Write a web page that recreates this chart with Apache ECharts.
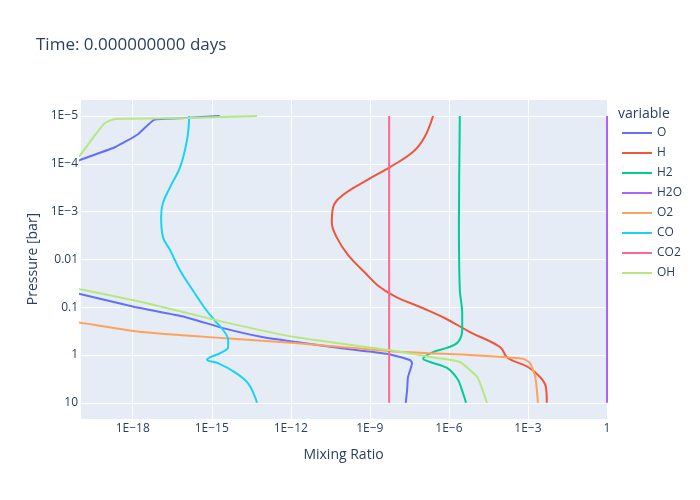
<!DOCTYPE html>
<html>
<head>
<meta charset="UTF-8">
<title>Mixing ratio profiles</title>
<script src="https://cdn.jsdelivr.net/npm/echarts@6/dist/echarts.min.js"></script>
</head>
<body style="margin: 0">
<div id="container" style="width: 700px; height: 500px"></div>
<script type="text/javascript">
// species in legend order
var species = ['O', 'H', 'H2', 'H2O', 'O2', 'CO', 'CO2', 'OH'];
var colors = ['#636efa', '#EF553B', '#00cc96', '#ab63fa', '#FFA15A', '#19d3f3', '#FF6692', '#B6E880'];

// each profile: [mixing ratio, pressure in bar], top of atmosphere first
var O = [[2.0e-15, 1e-5], [9.5e-17, 1.1e-5], [6.5e-18, 1.2e-5], [1.6e-18, 2.4e-5], [2.1e-19, 4.5e-5],
    [1e-20, 8.3e-5], [3e-22, 2e-4], [1e-24, 1e-3], [1e-23, 1e-2], [2e-22, 0.032],
    [1e-20, 0.053], [1.2e-18, 0.099], [9.5e-17, 0.16], [2.5e-15, 0.27], [8.1e-14, 0.42],
    [1.4e-12, 0.53], [7.4e-11, 0.71], [4.9e-9, 0.95], [3.3e-8, 1.27], [4.0e-8, 1.47],
    [2.8e-8, 2.9], [2.6e-8, 5.4], [2.3e-8, 10]];
var H = [[2.5e-7, 1e-5], [1.2e-7, 2.75e-5], [4.4e-8, 5.6e-5], [5.8e-9, 1.17e-4], [7.8e-10, 2.2e-4],
    [9.5e-11, 4.5e-4], [4.0e-11, 8.3e-4], [3.6e-11, 1.66e-3], [5.6e-11, 3.5e-3], [1.5e-10, 8.1e-3],
    [6.6e-10, 0.019], [2.0e-9, 0.035], [8.9e-9, 0.059], [1.05e-7, 0.105], [7.1e-7, 0.17],
    [6.3e-6, 0.33], [8.7e-5, 0.68], [1.7e-4, 1.15], [1.0e-3, 1.78], [2.9e-3, 2.9],
    [4.8e-3, 4.7], [5.2e-3, 10]];
var H2 = [[2.6e-6, 1e-5], [2.4e-6, 1.7e-3], [2.6e-6, 0.044], [3.2e-6, 0.13], [3.2e-6, 0.30],
    [2.2e-6, 0.54], [8.5e-7, 0.71], [2.5e-7, 0.87], [1.05e-7, 1.2], [1.9e-7, 1.4],
    [8.5e-7, 1.86], [2.2e-6, 3.3], [3.4e-6, 6.2], [4.5e-6, 10]];
var H2O = [[1, 1e-5], [1, 1e-3], [1, 0.1], [1, 10]];
var O2 = [[1e-40, 1e-5], [1e-36, 0.01], [1e-24, 0.1], [1e-20, 0.21], [2.2e-18, 0.33],
    [2.5e-15, 0.44], [1.4e-12, 0.56], [5.8e-9, 0.83], [6.3e-6, 1.0], [1.1e-4, 1.1],
    [6.5e-4, 1.2], [1.2e-3, 1.48], [1.9e-3, 2.9], [2.4e-3, 10]];
var CO = [[1.4e-16, 1e-5], [1.15e-16, 3.2e-5], [6.3e-17, 1.17e-4], [2.6e-17, 3.1e-4], [1.4e-17, 6.6e-4],
    [1.2e-17, 1.3e-3], [1.4e-17, 3.4e-3], [2.6e-17, 6.3e-3], [6.3e-17, 0.017], [1.9e-16, 0.044],
    [5.5e-16, 0.105], [1.3e-15, 0.19], [2.7e-15, 0.30], [4.2e-15, 0.49], [4.2e-15, 0.68],
    [2.5e-15, 0.87], [6.6e-16, 1.26], [1.7e-15, 1.48], [7.6e-15, 2.3], [2.4e-14, 3.9],
    [4.4e-14, 7.6], [5.2e-14, 10]];
var CO2 = [[5.4e-9, 1e-5], [5.4e-9, 1e-3], [5.4e-9, 0.1], [5.4e-9, 10]];
var OH = [[5.2e-14, 1e-5], [1.3e-16, 1.1e-5], [2.1e-19, 1.15e-5], [8.9e-20, 1.4e-5], [3.7e-20, 2.5e-5],
    [1e-20, 6.6e-5], [1e-21, 2e-4], [1e-24, 0.01], [1.2e-22, 0.025],
    [1e-20, 0.042], [2.2e-18, 0.078], [2.5e-15, 0.20], [1.4e-12, 0.42], [5.8e-9, 0.79],
    [3.5e-7, 1.15], [2.6e-6, 1.4], [1.2e-5, 2.9], [1.9e-5, 5.4], [2.8e-5, 10]];

var profiles = [O, H, H2, H2O, O2, CO, CO2, OH];
// smoother for the rounded profiles, less where there are sharp bends
var smoothing = [0.15, 0.4, 0.3, 0, 0.2, 0.4, 0, 0.15];

var font = '"Open Sans", verdana, arial, sans-serif';
var textColor = '#2a3f5f';

// plotly style log labels: 1E−5 ... 0.01, 0.1, 1, 10
function logLabel(v) {
    var e = Math.round(Math.log10(v));
    if (e >= -2) {
        return Math.pow(10, e).toFixed(Math.max(0, -e));
    }
    return '1E\u2212' + (-e);
}

var dom = document.getElementById('container');
var myChart = echarts.init(dom);

var option = {
    backgroundColor: '#fff',
    animation: false,
    title: [{
        text: 'Time: 0.000000000 days',
        left: 31,
        top: 32,
        textStyle: {fontFamily: font, fontSize: 17, fontWeight: 'normal', color: textColor}
    }, {
        text: 'variable',
        left: 613,
        top: 102,
        textStyle: {fontFamily: font, fontSize: 14, fontWeight: 'normal', color: textColor}
    }],
    legend: {
        orient: 'vertical',
        left: 617,
        top: 121,
        icon: 'rect',
        itemWidth: 30,
        itemHeight: 2,
        itemGap: 6,
        data: species,
        textStyle: {fontFamily: font, fontSize: 12, color: textColor, lineHeight: 14}
    },
    grid: {
        left: 80,
        right: 93,
        top: 99,
        bottom: 81,
        show: true,
        backgroundColor: '#E5ECF6',
        borderWidth: 0
    },
    xAxis: {
        type: 'log',
        logBase: 1000,
        min: 1e-20,
        max: 1,
        name: 'Mixing Ratio',
        nameLocation: 'middle',
        nameGap: 29,
        nameTextStyle: {fontFamily: font, fontSize: 14, color: textColor},
        axisLine: {show: false},
        axisTick: {show: false},
        axisLabel: {
            fontFamily: font, fontSize: 12, color: textColor, margin: 4,
            showMinLabel: false,
            formatter: logLabel
        },
        splitLine: {lineStyle: {color: '#fff', width: 1}}
    },
    yAxis: {
        type: 'log',
        logBase: 10,
        inverse: true,
        min: 4.4e-6,
        max: 21.8,
        name: 'Pressure [bar]',
        nameLocation: 'middle',
        nameGap: 39,
        nameTextStyle: {fontFamily: font, fontSize: 14, color: textColor},
        axisLine: {show: false},
        axisTick: {show: false},
        axisLabel: {
            fontFamily: font, fontSize: 12, color: textColor, margin: 2,
            showMinLabel: false,
            showMaxLabel: false,
            formatter: logLabel
        },
        splitLine: {lineStyle: {color: '#fff', width: 1}}
    },
    series: species.map(function (name, i) {
        return {
            name: name,
            type: 'line',
            data: profiles[i],
            showSymbol: false,
            symbol: 'none',
            smooth: smoothing[i],
            clip: true,
            color: colors[i],
            lineStyle: {width: 2, color: colors[i]}
        };
    })
};

myChart.setOption(option);
</script>
</body>
</html>
